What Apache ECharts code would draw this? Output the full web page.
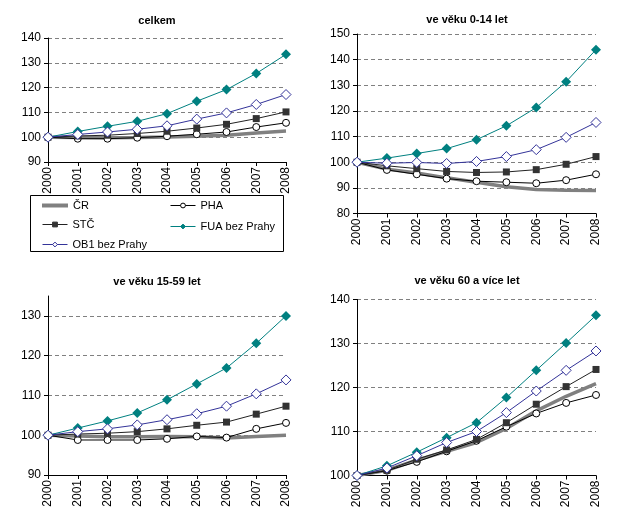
<!DOCTYPE html>
<html><head><meta charset="utf-8">
<script src="https://cdn.jsdelivr.net/npm/echarts@6/dist/echarts.min.js"></script>
<style>html,body{margin:0;padding:0;background:#fff}#c{width:622px;height:528px}</style>
</head><body><div id="c"></div>
<script>
const years = ['2000','2001','2002','2003','2004','2005','2006','2007','2008'];
const seriesNames = ['ČR','PHA','STČ','FUA bez Prahy','OB1 bez Prahy'];
const panelTitles = ['celkem','ve věku 0-14 let','ve věku 15-59 let','ve věku 60 a více let'];

// celkem
const total_CR  = [100, 99.9, 99.8, 99.9, 100.1, 100.4, 100.8, 101.7, 102.5];
const total_PHA = [100, 99.4, 99.4, 99.8, 100.4, 101.2, 102.1, 104.1, 105.8];
const total_STC = [100, 100.5, 100.8, 101.5, 102.4, 103.7, 105.2, 107.5, 110.2];
const total_FUA = [100, 102.3, 104.4, 106.4, 109.5, 114.5, 119.2, 125.7, 133.4];
const total_OB1 = [100, 101.1, 102.1, 103.2, 104.6, 107.3, 109.8, 113.2, 117.2];

// 0-14
const y014_CR  = [100, 97.3, 95.8, 93.9, 92.2, 90.4, 89.4, 89.1, 89.0];
const y014_PHA = [100, 97.0, 95.3, 93.6, 92.6, 92.2, 91.8, 93.0, 95.3];
const y014_STC = [100, 98.6, 97.5, 96.4, 96.0, 96.2, 97.1, 99.2, 102.2];
const y014_FUA = [100, 101.6, 103.4, 105.3, 108.8, 114.2, 121.3, 131.4, 143.9];
const y014_OB1 = [100, 99.6, 99.9, 99.5, 100.3, 102.2, 104.9, 109.7, 115.5];

// 15-59
const y1559_CR  = [100, 99.8, 99.6, 99.6, 99.7, 99.6, 99.3, 99.7, 100.0];
const y1559_PHA = [100, 98.8, 98.8, 98.8, 99.1, 99.7, 99.4, 101.6, 103.1];
const y1559_STC = [100, 100.3, 100.5, 100.9, 101.6, 102.5, 103.3, 105.3, 107.3];
const y1559_FUA = [100, 101.8, 103.6, 105.6, 108.9, 112.9, 116.9, 123.1, 130.0];
const y1559_OB1 = [100, 100.9, 101.6, 102.6, 103.9, 105.4, 107.3, 110.4, 113.9];

// 60+
const y60_CR  = [100, 101.2, 103.5, 105.5, 107.5, 110.7, 114.7, 118.0, 120.9];
const y60_PHA = [100, 101.1, 103.1, 105.5, 107.9, 111.1, 114.1, 116.5, 118.3];
const y60_STC = [100, 101.2, 103.7, 105.8, 108.2, 112.0, 116.2, 120.2, 124.1];
const y60_FUA = [100, 102.2, 105.3, 108.6, 112.0, 117.7, 123.9, 130.1, 136.4];
const y60_OB1 = [100, 101.7, 104.5, 107.5, 110.0, 114.3, 119.2, 123.9, 128.3];

// y axis ranges per panel [min, max, interval]
const yMin = [90, 80, 90, 100];
const yMax = [140, 150, 135, 140];
const yInterval = [10, 10, 10, 10];

const panelData = [
  [total_CR, total_PHA, total_STC, total_FUA, total_OB1],
  [y014_CR, y014_PHA, y014_STC, y014_FUA, y014_OB1],
  [y1559_CR, y1559_PHA, y1559_STC, y1559_FUA, y1559_OB1],
  [y60_CR, y60_PHA, y60_STC, y60_FUA, y60_OB1]
];

const FONT = 'Liberation Sans, Arial, sans-serif';
const grids = [
  {left: 48, top: 38, width: 238, height: 124},
  {left: 357, top: 34, width: 239, height: 179.5},
  {left: 48, top: 296, width: 238, height: 179},
  {left: 357, top: 299.5, width: 239, height: 176}
];
const titlePos = [
  {x: 157, y: 21}, {x: 467, y: 20}, {x: 157, y: 282}, {x: 467, y: 281}
];

const styles = [
  {color: '#808080', lineStyle: {width: 3.5, color: '#808080'}, symbol: 'none', itemStyle: {color: '#808080'}},
  {color: '#000', lineStyle: {width: 1, color: '#000'}, symbol: 'circle', symbolSize: 7,
   itemStyle: {color: '#fff', borderColor: '#000', borderWidth: 1}},
  {color: '#333', lineStyle: {width: 1, color: '#222'}, symbol: 'rect', symbolSize: 7,
   itemStyle: {color: '#333', borderColor: '#333', borderWidth: 0}},
  {color: '#008080', lineStyle: {width: 1, color: '#008080'}, symbol: 'diamond', symbolSize: 10,
   itemStyle: {color: '#008080', borderColor: '#008080', borderWidth: 0}},
  {color: '#333399', lineStyle: {width: 1, color: '#333399'}, symbol: 'diamond', symbolSize: 10,
   itemStyle: {color: '#fff', borderColor: '#333399', borderWidth: 1}}
];

const xAxes = [], yAxes = [], series = [], graphics = [];
grids.forEach((g, i) => {
  xAxes.push({
    type: 'category', gridIndex: i, data: years, boundaryGap: false,
    axisLine: {lineStyle: {color: '#000', width: 1}},
    axisTick: {show: true, length: 4, lineStyle: {color: '#000'}},
    axisLabel: {rotate: 90, fontSize: 12, fontFamily: FONT, color: '#000', margin: 5}
  });
  yAxes.push({
    type: 'value', gridIndex: i, min: yMin[i], max: yMax[i], interval: yInterval[i],
    axisLine: {show: true, lineStyle: {color: '#000', width: 1}},
    axisTick: {show: true, length: 4, lineStyle: {color: '#000'}},
    axisLabel: {fontSize: 12, fontFamily: FONT, color: '#000', margin: 7,
      showMaxLabel: (yMax[i] - yMin[i]) % yInterval[i] === 0},
    splitLine: {show: true, showMinLine: false,
      showMaxLine: (yMax[i] - yMin[i]) % yInterval[i] === 0,
      lineStyle: {color: '#808080', type: [4, 3], width: 1}}
  });
  panelData[i].forEach((d, k) => {
    series.push(Object.assign({
      type: 'line', name: seriesNames[k], xAxisIndex: i, yAxisIndex: i, data: d,
      animation: false, z: 2 + k
    }, styles[k]));
  });
  graphics.push({
    type: 'text', x: titlePos[i].x, y: titlePos[i].y,
    style: {text: panelTitles[i], font: 'bold 11px ' + FONT, fill: '#000', align: 'center', verticalAlign: 'middle'}
  });
});
graphics.push({type: 'rect', shape: {x: 30.5, y: 195.5, width: 253, height: 56},
  style: {fill: 'none', stroke: '#000', lineWidth: 1}});

const legendCommon = {
  orient: 'vertical', itemWidth: 25, itemHeight: 6, itemGap: 9, padding: 0,
  lineStyle: {width: 1}, itemStyle: {borderWidth: 1},
  textStyle: {fontSize: 11, fontFamily: FONT, color: '#000'}, selectedMode: false
};
const option = {
  animation: false,
  backgroundColor: '#fff',
  grid: grids,
  xAxis: xAxes,
  yAxis: yAxes,
  series: series,
  graphic: graphics,
  legend: [
    Object.assign({}, legendCommon, {left: 42, top: 200, itemHeight: 4, itemWidth: 26,
      data: [{name: 'ČR', icon: 'rect'}], itemStyle: {color: '#808080', borderWidth: 0}}),
    Object.assign({}, legendCommon, {left: 42, top: 219, data: ['STČ', 'OB1 bez Prahy']}),
    Object.assign({}, legendCommon, {left: 170, top: 200, itemGap: 10, data: ['PHA', 'FUA bez Prahy']})
  ]
};
const chart = echarts.init(document.getElementById('c'));
chart.setOption(option);
</script></body></html>
